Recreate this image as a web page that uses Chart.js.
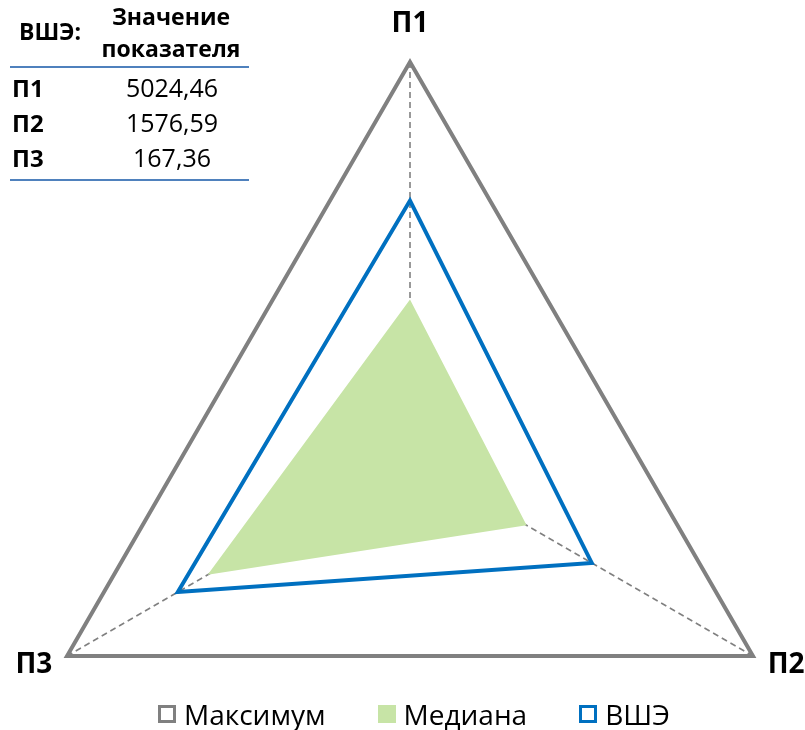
<!DOCTYPE html>
<html>
<head>
<meta charset="utf-8">
<script src="https://cdn.jsdelivr.net/npm/chart.js@4/dist/chart.umd.min.js"></script>
<style>
  html, body { margin: 0; padding: 0; background: #fff; }
  body { width: 805px; height: 730px; overflow: hidden; position: relative; font-family: "Open Sans", "Noto Sans", sans-serif; }
  #wrap { position: absolute; left: 0; top: 0; width: 806px; height: 860px; }
  .t { position: absolute; line-height: 1; white-space: nowrap; color: #000; }
  .hline { position: absolute; left: 10px; width: 239px; height: 2px; background: #4f81bd; }
  #legend { position: absolute; left: 0; width: 805px; top: 700px; display: flex; justify-content: flex-start; align-items: center; font-size: 28px; line-height: 1; padding-left: 158px; box-sizing: border-box; }
  .item { display: flex; align-items: center; margin-right: 52px; }
  .box { width: 18px; height: 18px; box-sizing: border-box; margin-right: 8px; }
</style>
</head>
<body>
<div id="wrap"><canvas id="c"></canvas></div>
<div id="tbl"></div>
<div id="legend"></div>
<script>
// ---- data ----
const categories = ['П1', 'П2', 'П3'];
const seriesNames = ['Максимум', 'Медиана', 'ВШЭ'];
const maxValues = [1, 1, 1];
const medianValues = [0.40, 0.34, 0.59];
const hseValues = [0.65, 0.53, 0.677];
const tableTitle = 'ВШЭ:';
const tableHeader = ['Значение', 'показателя'];
const tableRows = ['П1', 'П2', 'П3'];
const tableValues = ['5024,46', '1576,59', '167,36'];

const GRAY = '#808080', GREEN = '#c7e4a6', BLUE = '#0070c0';

// ---- table ----
const tbl = document.getElementById('tbl');
function addText(txt, css) {
  const d = document.createElement('div');
  d.className = 't';
  d.textContent = txt;
  Object.assign(d.style, css);
  tbl.appendChild(d);
  return d;
}
addText(tableTitle, { left: '19px', top: '20px', fontSize: '23px', fontWeight: '700' });
tableHeader.forEach((h, i) => {
  addText(h, { left: '171px', top: (5 + i * 32) + 'px', fontSize: '23px', fontWeight: '700', transform: 'translateX(-50%)' });
});
const l1 = document.createElement('div'); l1.className = 'hline'; l1.style.top = '66px'; tbl.appendChild(l1);
tableRows.forEach((r, i) => {
  addText(r, { left: '12px', top: (76 + i * 35) + 'px', fontSize: '24px', fontWeight: '700' });
  addText(tableValues[i], { left: '172px', top: (75 + i * 35) + 'px', fontSize: '25px', fontWeight: '400', transform: 'translateX(-50%)' });
});
const l2 = document.createElement('div'); l2.className = 'hline'; l2.style.top = '179px'; tbl.appendChild(l2);

// ---- point labels plugin ----
const pointLabelPlugin = {
  id: 'pointLabelPlugin',
  afterDraw(chart) {
    const s = chart.scales.r;
    const ctx = chart.ctx;
    ctx.save();
    ctx.font = '700 28px "Open Sans", "Noto Sans", sans-serif';
    ctx.fillStyle = '#000';
    ctx.textBaseline = 'alphabetic';
    categories.forEach((lab, i) => {
      if (i === 0) {
        const p = s.getPointPosition(i, s.drawingArea + 30);
        ctx.textAlign = 'center';
        ctx.fillText(lab, p.x, p.y);
      } else {
        const p = s.getPointPosition(i, s.drawingArea + 17);
        ctx.textAlign = (p.x > s.xCenter) ? 'left' : 'right';
        ctx.fillText(lab, p.x, p.y + 8);
      }
    });
    ctx.restore();
  }
};

const chart = new Chart(document.getElementById('c'), {
  type: 'radar',
  data: {
    labels: categories,
    datasets: [
      { label: seriesNames[0], data: maxValues, borderColor: GRAY, backgroundColor: GRAY, borderWidth: 4, fill: false, pointRadius: 0, order: 1, borderJoinStyle: 'miter' },
      { label: seriesNames[1], data: medianValues, borderColor: GREEN, backgroundColor: GREEN, borderWidth: 0, fill: true, pointRadius: 0, order: 2 },
      { label: seriesNames[2], data: hseValues, borderColor: BLUE, backgroundColor: BLUE, borderWidth: 4, fill: false, pointRadius: 0, order: 0, borderJoinStyle: 'miter' }
    ]
  },
  options: {
    responsive: true,
    maintainAspectRatio: false,
    animation: false,
    devicePixelRatio: 1,
    layout: { padding: { left: 14, right: 0, top: 62, bottom: 6 } },
    plugins: { legend: { display: false }, tooltip: { enabled: false } },
    elements: { line: { tension: 0 } },
    scales: {
      r: {
        min: 0,
        max: 1,
        z: 1,
        ticks: { display: false },
        grid: { display: false },
        pointLabels: { display: false },
        angleLines: { display: true, color: '#808080', lineWidth: 1.6, borderDash: [6, 4] }
      }
    }
  },
  plugins: [pointLabelPlugin]
});

// ---- legend ----
const legend = document.getElementById('legend');
chart.data.datasets.forEach(ds => {
  const it = document.createElement('div');
  it.className = 'item';
  const b = document.createElement('div');
  b.className = 'box';
  if (ds.fill) { b.style.background = ds.backgroundColor; }
  else { b.style.border = '3px solid ' + ds.borderColor; }
  const t = document.createElement('span');
  t.textContent = ds.label;
  it.appendChild(b); it.appendChild(t);
  legend.appendChild(it);
});
</script>
</body>
</html>
